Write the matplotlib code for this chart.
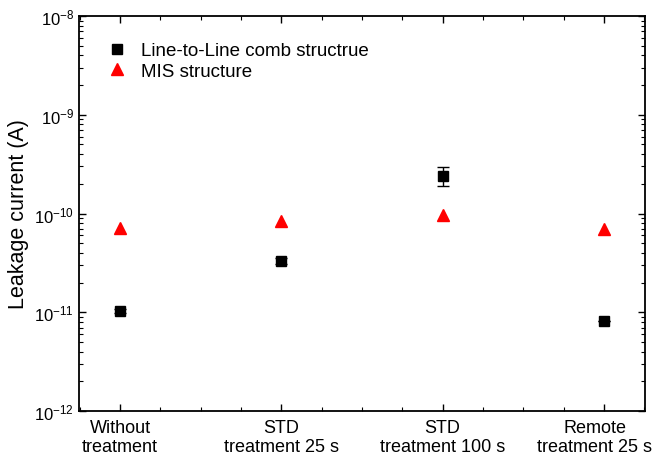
import numpy as np
import matplotlib
matplotlib.use('Agg')
import matplotlib.pyplot as plt
import matplotlib.transforms as mtransforms
from matplotlib.ticker import LogLocator, MultipleLocator, FixedLocator, NullFormatter
from matplotlib.lines import Line2D

plt.rcParams['font.family'] = ['Liberation Sans', 'DejaVu Sans']
plt.rcParams['mathtext.fontset'] = 'custom'
plt.rcParams['mathtext.rm'] = 'Liberation Sans'
plt.rcParams['mathtext.default'] = 'regular'

# datos
categorias = ['Without\ntreatment', 'STD\ntreatment 25 s', 'STD\ntreatment 100 s', 'Remote\ntreatment 25 s']
posiciones = [1, 2, 3, 4]
comb = [1.04e-11, 3.33e-11, 2.41e-10, 8.2e-12]
comb_err = [0.05e-11, 0.25e-11, 0.53e-10, 0.03e-12]
mis = [7.1e-11, 8.4e-11, 9.6e-11, 7.0e-11]

fig = plt.figure(figsize=(6.6, 4.64), dpi=100)
ax = fig.add_axes([79/660, 1 - 412/464, (645-79)/660, (412-17)/464])

ax.errorbar(posiciones, comb, yerr=comb_err, fmt='s', color='black', ms=6.5,
            capsize=4, elinewidth=1, capthick=1)
ax.plot(posiciones, mis, '^', color='red', ms=8, markeredgecolor='red')

ax.set_yscale('log')
ax.set_ylim(1e-12, 1e-8)
ax.set_xlim(0.745, 4.255)
ax.yaxis.set_major_locator(LogLocator(base=10, numticks=10))
ax.yaxis.set_minor_locator(LogLocator(base=10, subs=np.arange(2, 10), numticks=10))
ax.yaxis.set_minor_formatter(NullFormatter())
ax.xaxis.set_major_locator(FixedLocator(posiciones))
ax.xaxis.set_major_formatter(NullFormatter())
ax.xaxis.set_minor_locator(MultipleLocator(0.25))

# etiquetas de categorias a mano (la ultima corrida a la izquierda para que no se corte)
trans = ax.get_xaxis_transform()
for pos, cat in zip(posiciones, categorias):
    t = trans
    if pos == posiciones[-1]:
        t = trans + mtransforms.ScaledTranslation(-9/100, 0, fig.dpi_scale_trans)
    ax.text(pos, -0.02, cat, transform=t, ha='center', va='top',
            fontsize=13, linespacing=1.2)

ax.tick_params(which='both', direction='in', top=True, right=True)
ax.tick_params(axis='y', labelsize=12)
ax.tick_params(which='major', length=5, width=1)
ax.tick_params(which='minor', length=3, width=0.8)
for s in ax.spines.values():
    s.set_linewidth(1.3)

ax.set_ylabel('Leakage current (A)', fontsize=15.5, labelpad=4)

handles = [
    Line2D([], [], marker='s', color='black', ls='none', ms=6.5),
    Line2D([], [], marker='^', color='red', ls='none', ms=8),
]
ax.legend(handles, ['Line-to-Line comb structrue', 'MIS structure'],
          loc='upper left', bbox_to_anchor=(0.013, 0.977), frameon=False, fontsize=13.5,
          handletextpad=0.5, labelspacing=0.2, handlelength=1.5)

fig.savefig('out.png', dpi=100)
